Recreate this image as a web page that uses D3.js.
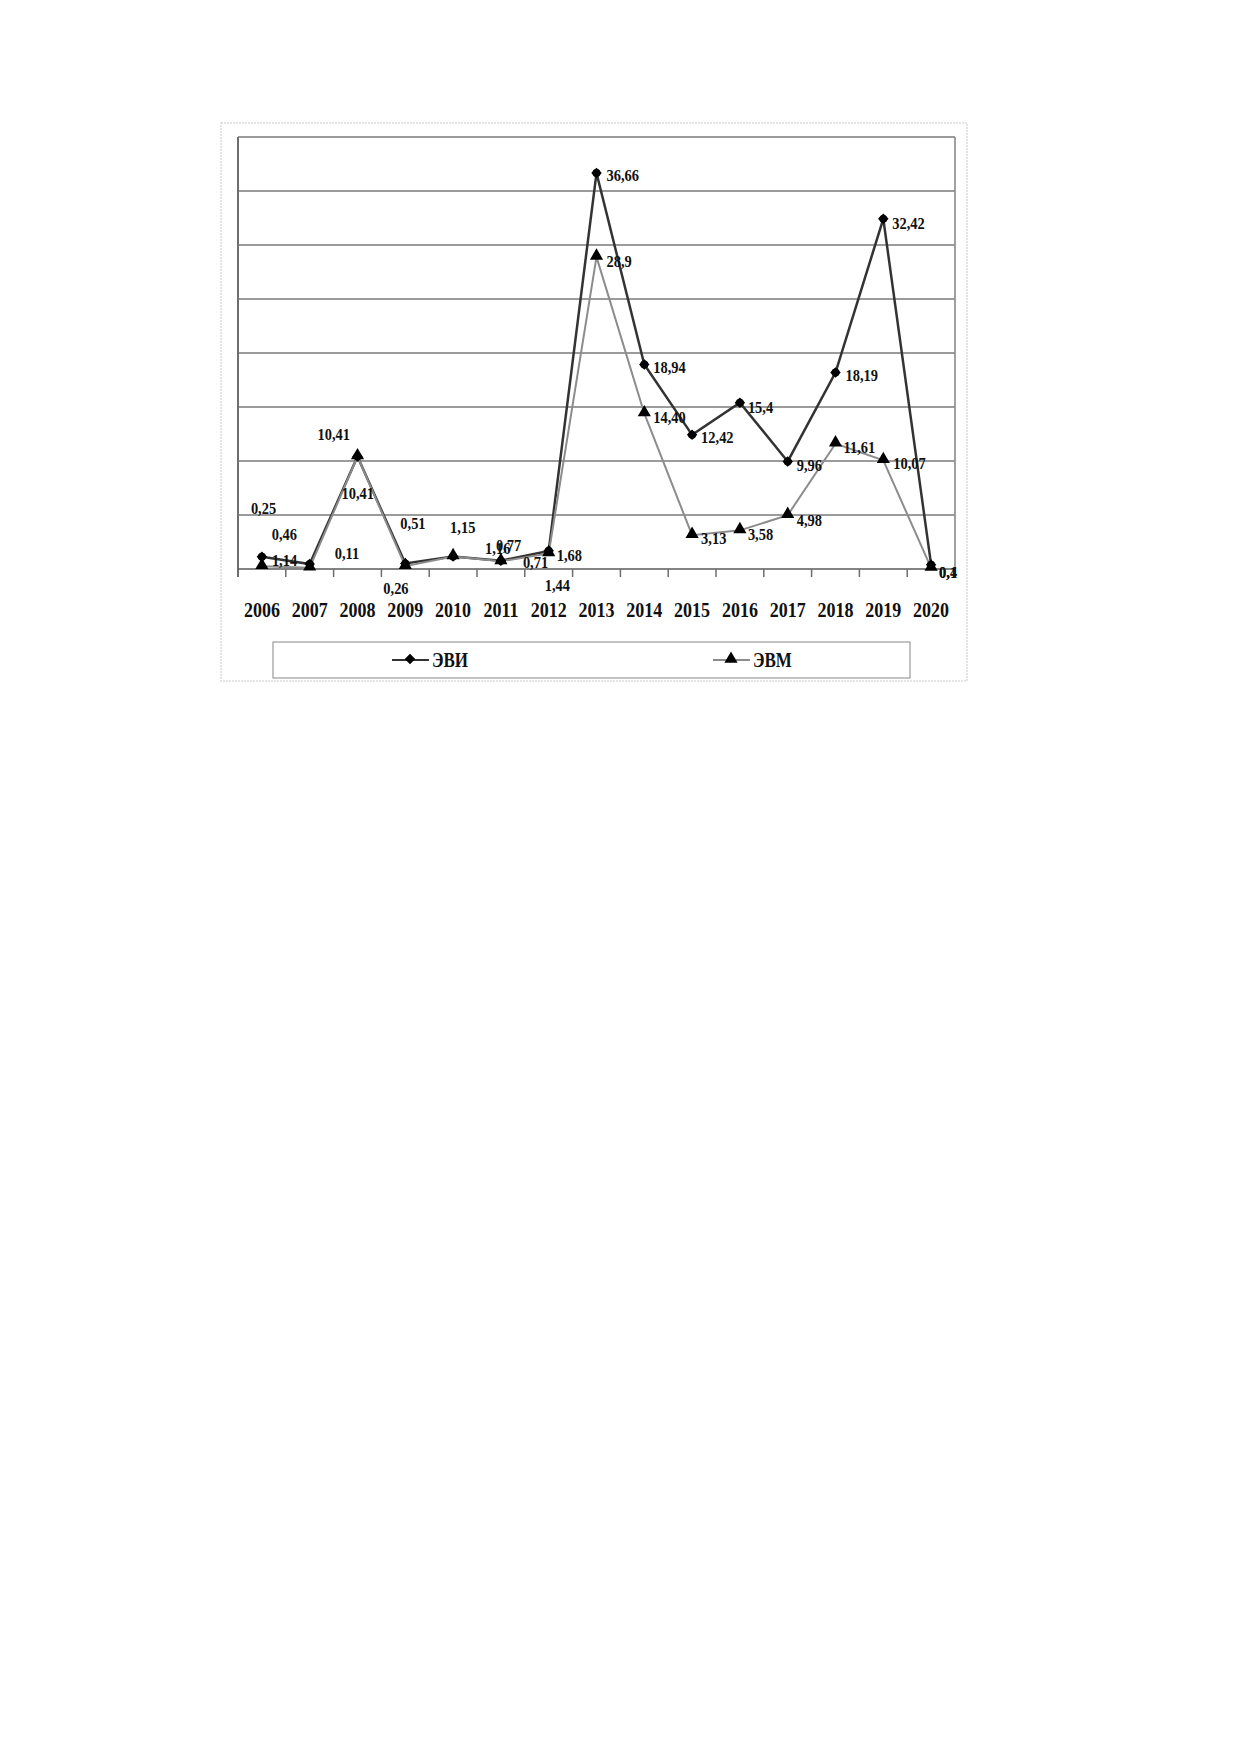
<!DOCTYPE html>
<html>
<head>
<meta charset="utf-8">
<script src="https://cdn.jsdelivr.net/npm/d3@7/dist/d3.min.js"></script>
<style>
  body { margin: 0; background: #fff; }
  text { font-family: "Liberation Serif", "DejaVu Serif", serif; font-weight: bold; fill: #111; }
</style>
</head>
<body>
<div id="chart"></div>
<script>
// years on the x axis
var years = ["2006", "2007", "2008", "2009", "2010", "2011", "2012", "2013",
             "2014", "2015", "2016", "2017", "2018", "2019", "2020"];
// ЭВИ series
var evi = [1.14, 0.46, 10.41, 0.51, 1.15, 0.77, 1.68, 36.66, 18.94, 12.42, 15.4, 9.96, 18.19, 32.42, 0.4];
// ЭВМ series
var evm = [0.25, 0.11, 10.41, 0.26, 1.16, 0.71, 1.44, 28.9, 14.40, 3.13, 3.58, 4.98, 11.61, 10.07, 0.1];
// label texts as printed on the chart
var eviLabels = ["1,14", "0,46", "10,41", "0,51", "1,15", "0,77", "1,68", "36,66", "18,94", "12,42", "15,4", "9,96", "18,19", "32,42", "0,4"];
var evmLabels = ["0,25", "0,11", "10,41", "0,26", "1,16", "0,71", "1,44", "28,9", "14,40", "3,13", "3,58", "4,98", "11,61", "10,07", "0,1"];
// y gridlines (no tick labels are printed)
var yTicks = [0, 5, 10, 15, 20, 25, 30, 35, 40];

// label nudges, px from the marker (hand placed in the original)
var eviNudge = [[10,3],[-38,-30],[-40,-22],[-5,-40],[-3,-30],[-5,-16],[8,4],[10,2],[9,3],[9,2],[8,4],[9,4],[10,3],[9,4],[8,7]];
var evmNudge = [[-11,-58],[25,-15],[-16,37],[-22,22],[32,-8],[22,1],[-4,32],[10,4],[9,4],[9,3],[8,4],[9,5],[8,3],[10,3],[8,4]];

var W = 1239, H = 1754;
var plot = {left: 238, top: 137, right: 955, bottom: 569};

var svg = d3.select("#chart").append("svg")
  .attr("width", W)
  .attr("height", H);

// outer chart frame
svg.append("rect")
  .attr("x", 221).attr("y", 123)
  .attr("width", 746).attr("height", 558)
  .attr("fill", "none")
  .attr("stroke", "#dcdcdc")
  .attr("stroke-width", 1.5)
  .attr("stroke-dasharray", "2,1");

var x = d3.scaleBand().domain(years).range([plot.left, plot.right]);
var y = d3.scaleLinear().domain([0, 40]).range([plot.bottom, plot.top]);
var cx = function (i) { return x(years[i]) + x.bandwidth() / 2; };

// gridlines
svg.append("g").selectAll("line")
  .data(yTicks.slice(1))
  .enter().append("line")
  .attr("x1", plot.left).attr("x2", plot.right)
  .attr("y1", function (d) { return y(d); })
  .attr("y2", function (d) { return y(d); })
  .attr("stroke", "#7a7a7a")
  .attr("stroke-width", 1.6);

// left and right border
svg.append("line")
  .attr("x1", plot.left).attr("x2", plot.left)
  .attr("y1", plot.top).attr("y2", plot.bottom + 8)
  .attr("stroke", "#6e6e6e").attr("stroke-width", 2);
svg.append("line")
  .attr("x1", plot.right).attr("x2", plot.right)
  .attr("y1", plot.top).attr("y2", plot.bottom)
  .attr("stroke", "#8a8a8a").attr("stroke-width", 1.6);

// x axis: baseline + ticks between categories
svg.append("line")
  .attr("x1", plot.left).attr("x2", plot.right)
  .attr("y1", plot.bottom).attr("y2", plot.bottom)
  .attr("stroke", "#5a5a5a").attr("stroke-width", 1.6);
svg.append("g").selectAll("line")
  .data(years.slice(1))
  .enter().append("line")
  .attr("x1", function (d) { return x(d); })
  .attr("x2", function (d) { return x(d); })
  .attr("y1", plot.bottom).attr("y2", plot.bottom + 8)
  .attr("stroke", "#6e6e6e").attr("stroke-width", 1.5);

// year labels, through the band scale
svg.append("g")
  .attr("transform", "translate(0," + plot.bottom + ")")
  .call(d3.axisBottom(x).tickSize(0).tickPadding(0))
  .call(function (g) {
    g.select(".domain").remove();
    g.selectAll("text")
      .attr("y", 0).attr("dy", 0)
      .attr("transform", "translate(0,48) scale(0.9,1)")
      .style("font-size", "20px")
      .style("font-family", "'Liberation Serif', serif")
      .style("font-weight", "bold")
      .attr("fill", "#111");
  });

var line = d3.line()
  .x(function (d, i) { return cx(i); })
  .y(function (d) { return y(d); });

// ЭВИ line (dark)
svg.append("path")
  .datum(evi)
  .attr("d", line)
  .attr("fill", "none")
  .attr("stroke", "#333")
  .attr("stroke-width", 2.5);

// ЭВМ line (grey), drawn on top
svg.append("path")
  .datum(evm)
  .attr("d", line)
  .attr("fill", "none")
  .attr("stroke", "#8c8c8c")
  .attr("stroke-width", 2);

var diamond = d3.symbol().type(d3.symbolDiamond2).size(70);
var dot = d3.symbol().type(d3.symbolCircle).size(50);
var triangle = d3.symbol().type(d3.symbolTriangle).size(75);

var eviMarks = svg.append("g").selectAll("g")
  .data(evi)
  .enter().append("g")
  .attr("transform", function (d, i) { return "translate(" + cx(i) + "," + y(d) + ")"; });
eviMarks.append("path").attr("d", diamond).attr("fill", "#000");
eviMarks.append("path").attr("d", dot).attr("fill", "#000");

svg.append("g").selectAll("path")
  .data(evm)
  .enter().append("path")
  .attr("d", triangle)
  .attr("transform", function (d, i) { return "translate(" + cx(i) + "," + (y(d) - 1) + ")"; })
  .attr("fill", "#000");

function addLabels(values, labels, nudge) {
  svg.append("g").selectAll("text")
    .data(values)
    .enter().append("text")
    .attr("transform", function (d, i) {
      return "translate(" + (cx(i) + nudge[i][0]) + "," + (y(d) + nudge[i][1]) + ") scale(0.85,1)";
    })
    .attr("dominant-baseline", "central")
    .style("font-size", "17px")
    .text(function (d, i) { return labels[i]; });
}
addLabels(evi, eviLabels, eviNudge);
addLabels(evm, evmLabels, evmNudge);

// legend
var legend = svg.append("g");
legend.append("rect")
  .attr("x", 273).attr("y", 642)
  .attr("width", 637).attr("height", 36)
  .attr("fill", "#fff")
  .attr("stroke", "#9a9a9a")
  .attr("stroke-width", 1.2);

var legendItems = [
  {name: "ЭВИ", x: 392, color: "#333", sym: diamond},
  {name: "ЭВМ", x: 713, color: "#8c8c8c", sym: triangle}
];
legendItems.forEach(function (it) {
  legend.append("line")
    .attr("x1", it.x).attr("x2", it.x + 37)
    .attr("y1", 660).attr("y2", 660)
    .attr("stroke", it.color).attr("stroke-width", 2);
  legend.append("path")
    .attr("d", it.sym)
    .attr("transform", "translate(" + (it.x + 18) + ",659)")
    .attr("fill", "#000");
  legend.append("text")
    .attr("transform", "translate(" + (it.x + 40) + ",660) scale(0.85,1)")
    .attr("dominant-baseline", "central")
    .style("font-size", "20px")
    .text(it.name);
});
</script>
</body>
</html>
